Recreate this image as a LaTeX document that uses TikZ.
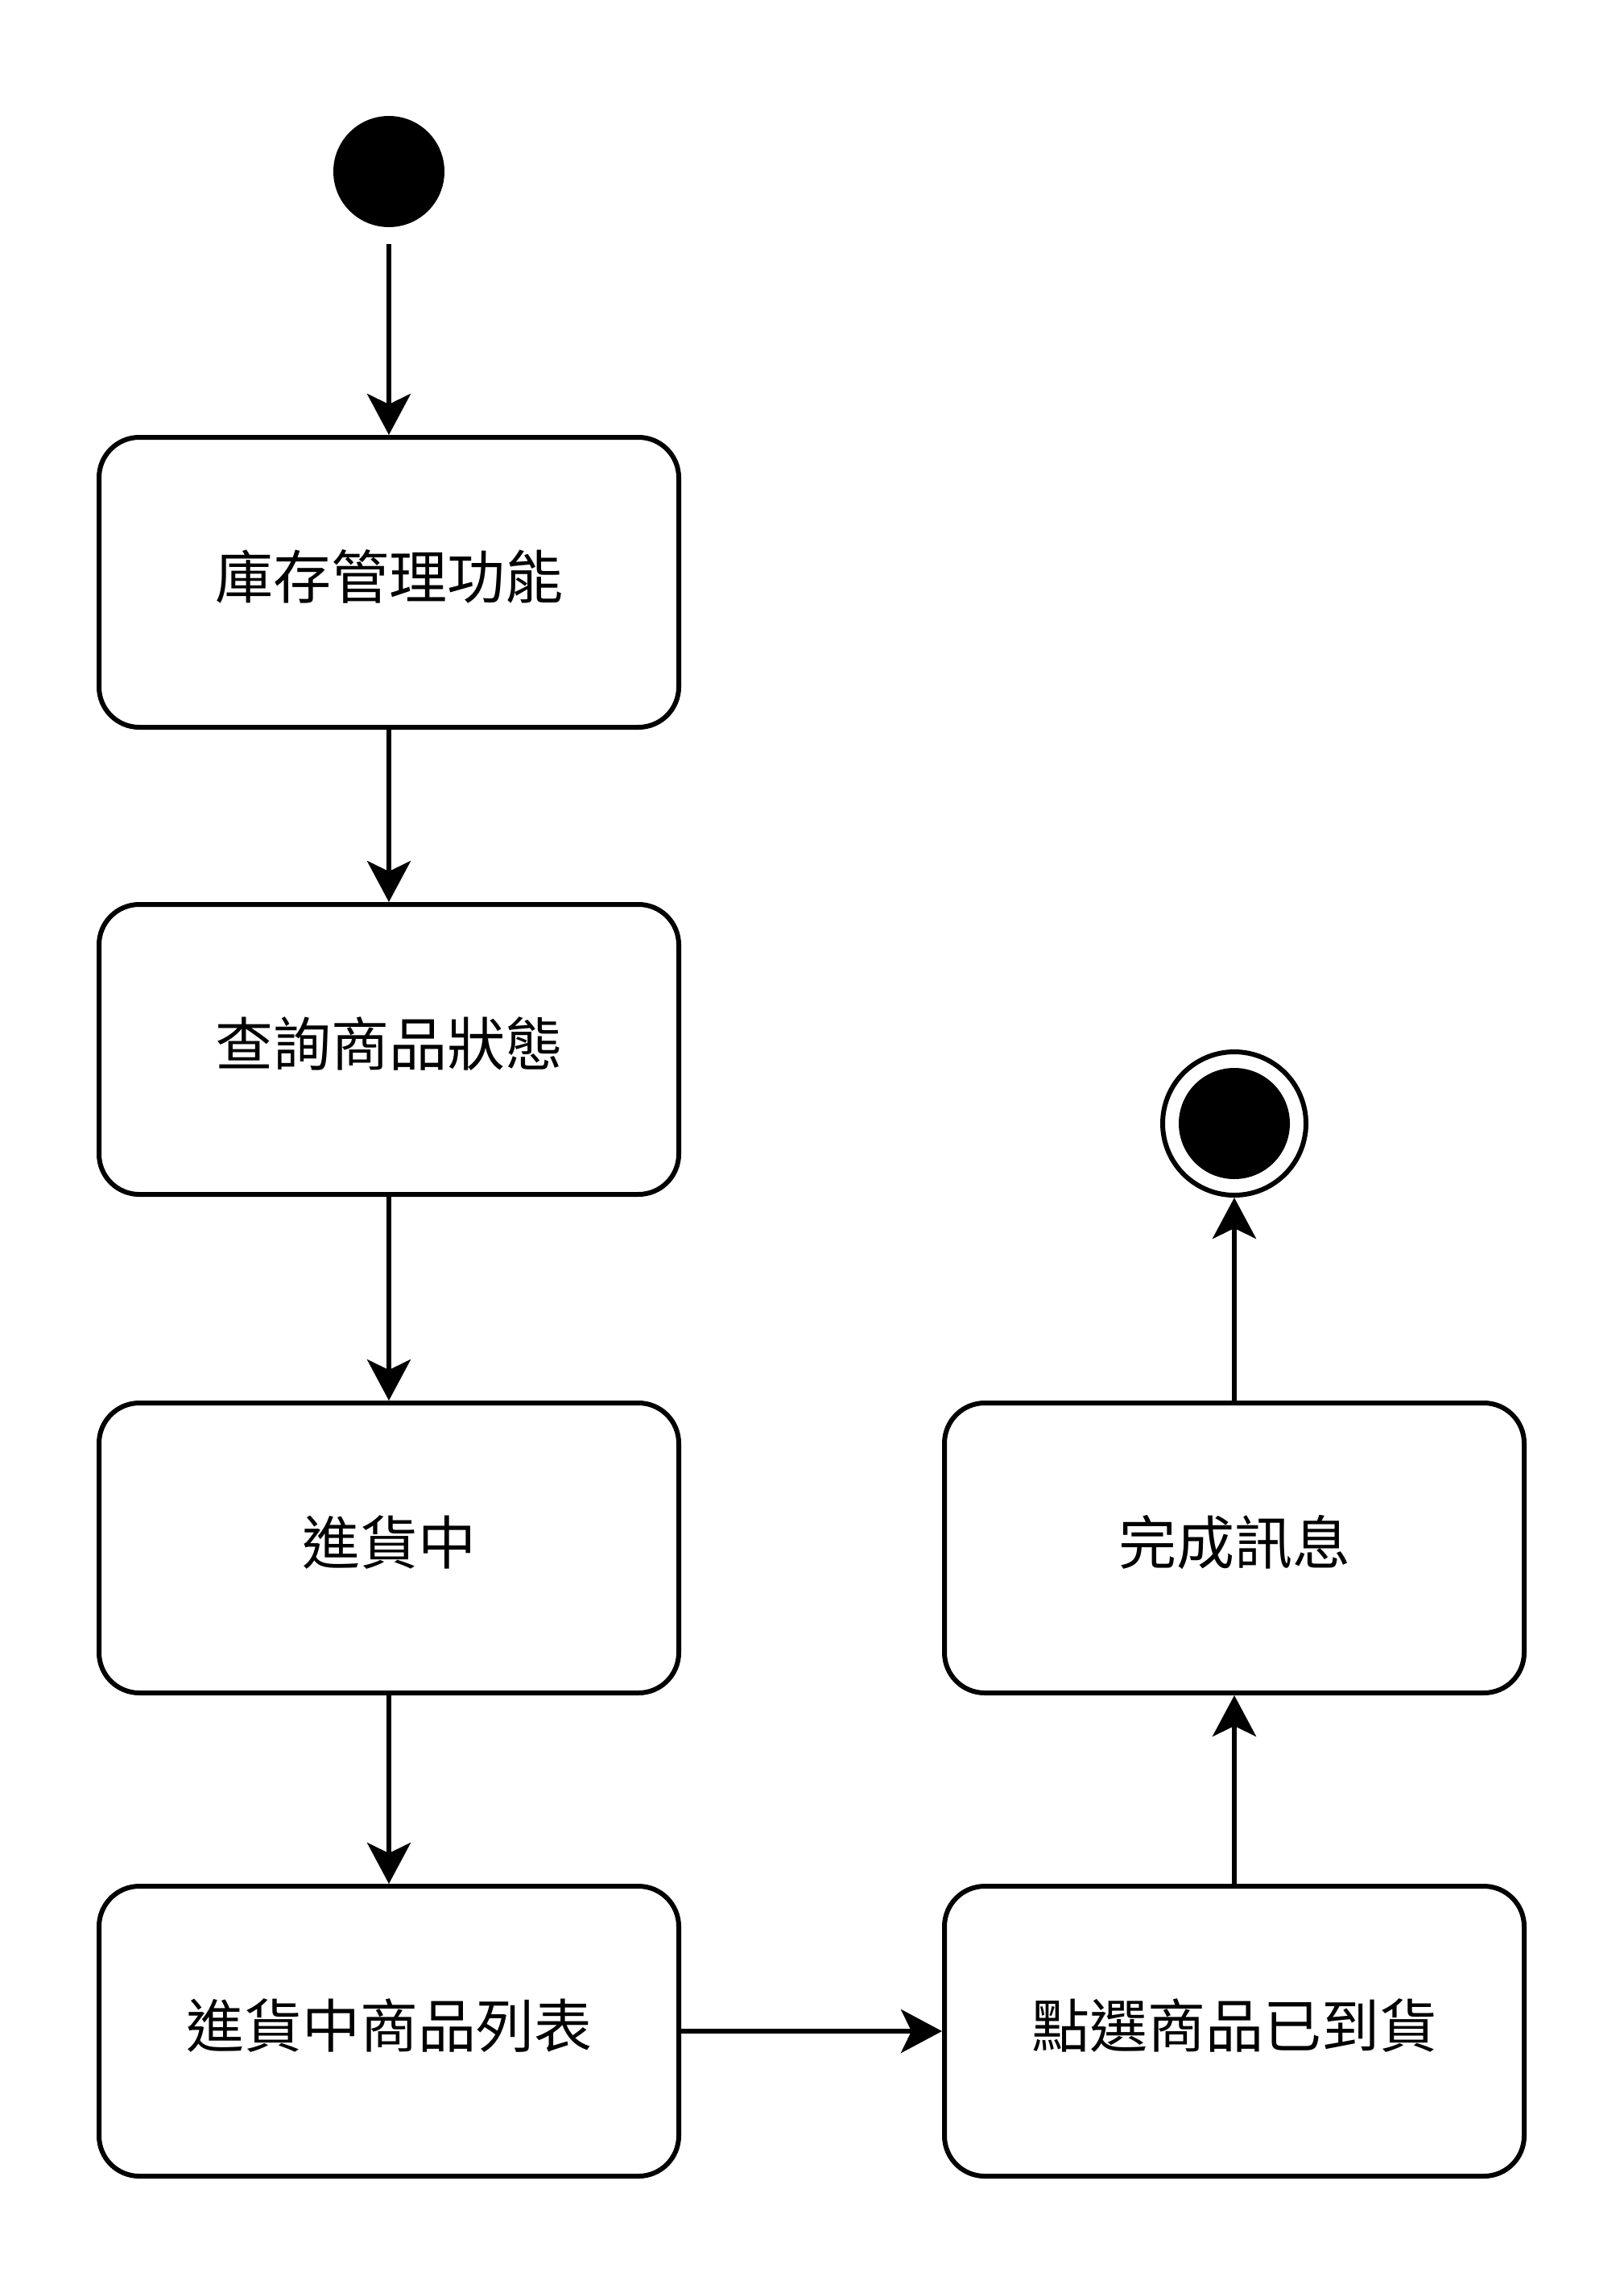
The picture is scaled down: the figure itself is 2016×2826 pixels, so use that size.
\documentclass[tikz,border=0pt]{standalone}
\usepackage{fontspec}
\setmainfont{Noto Sans CJK TC}
\usetikzlibrary{arrows.meta}
\newcommand{\lift}[1]{\raisebox{7pt}[\height][\depth]{#1}}
\begin{document}
\begin{tikzpicture}[x=1pt,y=-1pt,
  statebox/.style={draw=black,line width=6pt,rounded corners=50pt,fill=white,
    minimum width=720pt,minimum height=360pt,inner sep=0pt,
    font=\fontsize{72pt}{86pt}\selectfont},
  flow/.style={line width=6pt,-{Stealth[length=51pt,width=54pt,inset=13pt]}},
  startdot/.style={circle,fill=black,minimum size=138pt,inner sep=0pt},
  enddot/.style={circle,draw=black,line width=6pt,fill=white,minimum size=178pt,inner sep=0pt,
    path picture={\fill[black] (path picture bounding box.center) circle[radius=69pt];}}]
\useasboundingbox (0,0) rectangle (2016,2826);
\node[startdot] (start) at (483,213) {};
\coordinate (startout) at (483,303);
\node[statebox] (s1) at (483,723) {\lift{庫存管理功能}};
\node[statebox] (s2) at (483,1303) {\lift{查詢商品狀態}};
\node[statebox] (s3) at (483,1922) {\lift{進貨中}};
\node[statebox] (s4) at (483,2522) {\lift{進貨中商品列表}};
\node[statebox] (s5) at (1533,2522) {\lift{點選商品已到貨}};
\node[statebox] (s6) at (1533,1922) {\lift{完成訊息}};
\node[enddot] (end) at (1533,1395) {};
\draw[flow] (startout) -- (s1.north);
\draw[flow] (s1) -- (s2);
\draw[flow] (s2) -- (s3);
\draw[flow] (s3) -- (s4);
\draw[flow] (s4) -- (s5);
\draw[flow] (s5) -- (s6);
\draw[flow] (s6) -- (end);
\end{tikzpicture}
\end{document}
